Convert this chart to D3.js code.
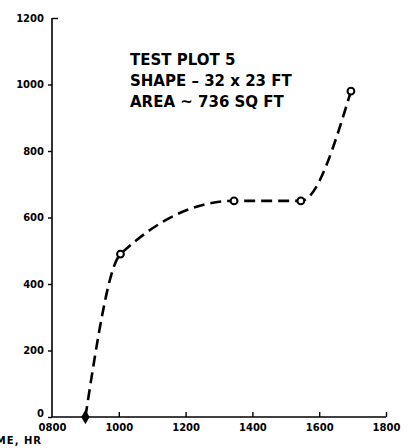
<!DOCTYPE html>
<html><head><meta charset="utf-8">
<script src="https://cdn.jsdelivr.net/npm/d3@7/dist/d3.min.js"></script>
<style>
html,body{margin:0;padding:0;background:#fff;}
svg{display:block;}
</style></head>
<body>
<svg id="c" width="408" height="448"></svg>
<script>
// Data (time in decimal hours, value)
const times = [9.0, 10.05, 13.45, 15.45, 16.95];
const values = [0, 490, 650, 650, 980];
const xTicks = [8, 10, 12, 14, 16, 18];
const xTickLabels = ["0800", "1000", "1200", "1400", "1600", "1800"];
const yTicks = [0, 200, 400, 600, 800, 1000, 1200];
const yTickLabels = ["0", "200", "400", "600", "800", "1000", "1200"];
const annotation = ["TEST PLOT 5", "SHAPE \u2013 32 x 23 FT", "AREA ~ 736 SQ FT"];
const xTitle = "TIME, HR";

const svg = d3.select("#c");
const x = d3.scaleLinear().domain([8, 18]).range([52, 386]);
const y = d3.scaleLinear().domain([0, 1200]).range([417, 18]);
const font = "'DejaVu Sans', sans-serif";

// Y axis
const yAxis = d3.axisLeft(y).tickValues(yTicks).tickSize(4).tickPadding(4)
  .tickFormat((d, i) => yTickLabels[i]);
const gy = svg.append("g").attr("transform", `translate(${x(8)},0)`).call(yAxis);
gy.select(".domain").attr("stroke", "#000").attr("stroke-width", 1.6)
  .attr("d", `M0,${y(0)}V${y(1200)}`);
gy.selectAll(".tick line").attr("stroke", "#000").attr("stroke-width", 1.4);
gy.selectAll(".tick").filter(d => d === 1200).select("line").attr("x2", 6);
gy.selectAll(".tick text").attr("font-family", font).attr("font-weight", "bold")
  .attr("font-size", 10).attr("fill", "#000");
gy.selectAll(".tick").filter(d => d === 0).select("text").attr("dy", "-0.1em");

// X axis (ticks pointing up)
const xAxis = d3.axisBottom(x).tickValues(xTicks).tickSize(-5).tickPadding(9)
  .tickFormat((d, i) => xTickLabels[i]);
const gx = svg.append("g").attr("transform", `translate(0,${y(0)})`).call(xAxis);
gx.select(".domain").attr("stroke", "#000").attr("stroke-width", 1.6)
  .attr("d", `M${x(8)},0H${x(18)}`);
gx.selectAll(".tick line").attr("stroke", "#000").attr("stroke-width", 1.4);
gx.selectAll(".tick").filter(d => d === 8).select("line").remove();
gx.selectAll(".tick text").attr("font-family", font).attr("font-weight", "bold")
  .attr("font-size", 10).attr("fill", "#000").attr("dy", "0.5em");

// X title (partly cut off at left edge, as in the reference)
svg.append("text").attr("x", 42).attr("y", 444).attr("text-anchor", "end")
  .attr("font-family", font).attr("font-weight", "bold").attr("font-size", 10)
  .attr("letter-spacing", 1)
  .text(xTitle);

// Curve
const pts = times.map((t, i) => [t, values[i]]);
const line = d3.line().x(d => x(d[0])).y(d => y(d[1])).curve(d3.curveMonotoneX);
svg.append("path").attr("d", line(pts)).attr("fill", "none")
  .attr("stroke", "#000").attr("stroke-width", 2.6)
  .attr("stroke-dasharray", "11,6");

// Markers: first point filled diamond, others open circles
svg.append("path")
  .attr("d", d3.symbol().type(d3.symbolDiamond).size(60)())
  .attr("transform", `translate(${x(times[0])},${y(values[0])})`)
  .attr("fill", "#000");
svg.selectAll("circle.pt").data(pts.slice(1)).enter().append("circle")
  .attr("class", "pt").attr("cx", d => x(d[0])).attr("cy", d => y(d[1]))
  .attr("r", 3.4).attr("fill", "#fff").attr("stroke", "#000").attr("stroke-width", 2);

// Annotation
const ann = svg.append("text").attr("font-family", font).attr("font-weight", "bold")
  .attr("font-size", 15).attr("fill", "#000");
annotation.forEach((s, i) => {
  ann.append("tspan").attr("x", 130).attr("y", 65 + i * 21).text(s);
});
</script>
</body></html>
